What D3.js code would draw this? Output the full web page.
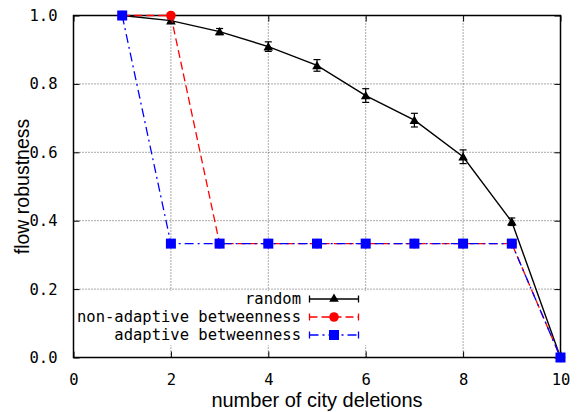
<!DOCTYPE html>
<html><head><meta charset="utf-8">
<script src="https://cdn.jsdelivr.net/npm/d3@7"></script>
<style>body{margin:0;background:#fff}svg{display:block}</style>
</head><body>
<svg id="c" width="579" height="412"></svg>
<script>
const xValues = [1, 2, 3, 4, 5, 6, 7, 8, 9, 10];
const randomVals = [1.0, 0.985, 0.953, 0.909, 0.854, 0.766, 0.694, 0.587, 0.397, 0.0];
const randomErr = [0, 0.005, 0.009, 0.014, 0.017, 0.02, 0.02, 0.02, 0.011, 0];
const nonAdaptiveVals = [1.0, 1.0, 0.333, 0.333, 0.333, 0.333, 0.333, 0.333, 0.333, 0.0];
const adaptiveVals = [1.0, 0.333, 0.333, 0.333, 0.333, 0.333, 0.333, 0.333, 0.333, 0.0];
const xTicks = [0, 2, 4, 6, 8, 10];
const yTicks = [0, 0.2, 0.4, 0.6, 0.8, 1.0];
const legendLabels = ["random", "non-adaptive betweenness", "adaptive betweenness"];
const xTitle = "number of city deletions";
const yTitle = "flow robustness";

const L = 73.5, R = 560.5, T = 15.5, B = 357.5;
const svg = d3.select("#c");
const x = d3.scaleLinear().domain([0, 10]).range([L, R]);
const y = d3.scaleLinear().domain([0, 1]).range([B, T]);
const mono = "'DejaVu Sans Mono', monospace";
const sans = "'Liberation Sans', Arial, sans-serif";
const fs = 15.5;

// grid
const grid = svg.append("g").attr("stroke", "#555").attr("stroke-width", 1).attr("stroke-dasharray", "1,2");
xTicks.filter(t => t > 0 && t < 10).forEach(t => {
  grid.append("line").attr("x1", x(t)).attr("x2", x(t)).attr("y1", B).attr("y2", T);
});
yTicks.filter(t => t > 0 && t < 1).forEach(t => {
  grid.append("line").attr("x1", L).attr("x2", R).attr("y1", y(t)).attr("y2", y(t));
});

// legend background (opaque)
const legX = 301, legY0 = 299, legDy = 18;
svg.append("rect").attr("x", L + 2).attr("y", 291).attr("width", 292).attr("height", 54).attr("fill", "#fff");

// axes
function styleAxis(g, labels) {
  g.select(".domain").remove();
  g.selectAll(".tick line").attr("stroke", "#000").attr("stroke-width", 1);
  g.selectAll(".tick text").attr("font-family", mono).attr("font-size", fs).attr("fill", "#000");
  if (!labels) g.selectAll(".tick text").remove();
}
svg.append("g").attr("transform", `translate(0,${B})`)
  .call(d3.axisBottom(x).tickValues(xTicks).tickSizeInner(-6).tickSizeOuter(0).tickPadding(16).tickFormat(d3.format("d")))
  .call(g => styleAxis(g, true));
svg.append("g").attr("transform", `translate(0,${T})`)
  .call(d3.axisTop(x).tickValues(xTicks).tickSizeInner(-6).tickSizeOuter(0))
  .call(g => styleAxis(g, false));
svg.append("g").attr("transform", `translate(${L},0)`)
  .call(d3.axisLeft(y).tickValues(yTicks).tickSizeInner(-6).tickSizeOuter(0).tickPadding(16).tickFormat(d3.format(".1f")))
  .call(g => styleAxis(g, true));
svg.append("g").attr("transform", `translate(${R},0)`)
  .call(d3.axisRight(y).tickValues(yTicks).tickSizeInner(-6).tickSizeOuter(0))
  .call(g => styleAxis(g, false));

// border
svg.append("rect").attr("x", L).attr("y", T).attr("width", R - L).attr("height", B - T)
  .attr("fill", "none").attr("stroke", "#000").attr("stroke-width", 1.5);

// titles
svg.append("text").attr("x", (L + R) / 2).attr("y", 407).attr("text-anchor", "middle")
  .attr("font-family", sans).attr("font-size", 20).text(xTitle);
svg.append("text").attr("transform", `translate(29,${(T + B) / 2}) rotate(-90)`).attr("text-anchor", "middle")
  .attr("font-family", sans).attr("font-size", 19.5).text(yTitle);

const line = d3.line().x(d => x(d[0])).y(d => y(d[1]));

// random series
const rnd = xValues.map((v, i) => [v, randomVals[i], randomErr[i]]);
svg.append("path").datum(rnd).attr("d", line).attr("fill", "none").attr("stroke", "#000").attr("stroke-width", 1.4);
const eb = svg.append("g").attr("stroke", "#000").attr("stroke-width", 1.2);
rnd.filter(d => d[2] > 0).forEach(d => {
  eb.append("line").attr("x1", x(d[0])).attr("x2", x(d[0])).attr("y1", y(d[1] - d[2])).attr("y2", y(d[1] + d[2]));
  [d[1] - d[2], d[1] + d[2]].forEach(v => eb.append("line").attr("x1", x(d[0]) - 3.5).attr("x2", x(d[0]) + 3.5).attr("y1", y(v)).attr("y2", y(v)));
});
const tri = d3.symbol().type(d3.symbolTriangle).size(40);
svg.append("g").selectAll("path").data(rnd).join("path")
  .attr("transform", d => `translate(${x(d[0])},${y(d[1]) + 1})`).attr("d", tri).attr("fill", "#000");

// non-adaptive
const na = xValues.map((v, i) => [v, nonAdaptiveVals[i]]);
svg.append("path").datum(na).attr("d", line).attr("fill", "none").attr("stroke", "#f00")
  .attr("stroke-width", 1.3).attr("stroke-dasharray", "8,4");
svg.append("g").selectAll("circle").data(na).join("circle")
  .attr("cx", d => x(d[0])).attr("cy", d => y(d[1])).attr("r", 4.8).attr("fill", "#f00");

// adaptive
const ad = xValues.map((v, i) => [v, adaptiveVals[i]]);
svg.append("path").datum(ad).attr("d", line).attr("fill", "none").attr("stroke", "#00f")
  .attr("stroke-width", 1.3).attr("stroke-dasharray", "9,4,2,4");
svg.append("g").selectAll("rect").data(ad).join("rect")
  .attr("x", d => x(d[0]) - 5).attr("y", d => y(d[1]) - 5).attr("width", 10).attr("height", 10).attr("fill", "#00f");

// legend
const sx1 = 309.5, sx2 = 358.5, sm = 334;
const styles = [
  {c: "#000", dash: null, m: "tri"},
  {c: "#f00", dash: "8,4", m: "circle"},
  {c: "#00f", dash: "9,4,2,4", m: "square"}
];
legendLabels.forEach((lab, i) => {
  const yy = legY0 + i * legDy;
  svg.append("text").attr("x", legX).attr("y", yy).attr("dy", "0.35em").attr("text-anchor", "end")
    .attr("font-family", mono).attr("font-size", fs).text(lab);
  const s = styles[i];
  const g = svg.append("g").attr("stroke", s.c).attr("stroke-width", 1.3);
  g.append("line").attr("x1", sx1).attr("x2", sx2).attr("y1", yy).attr("y2", yy).attr("stroke-dasharray", s.dash);
  g.append("line").attr("x1", sx1).attr("x2", sx1).attr("y1", yy - 3.5).attr("y2", yy + 3.5);
  g.append("line").attr("x1", sx2).attr("x2", sx2).attr("y1", yy - 3.5).attr("y2", yy + 3.5);
  if (s.m === "tri") svg.append("path").attr("transform", `translate(${sm},${yy})`).attr("d", tri).attr("fill", s.c);
  if (s.m === "circle") svg.append("circle").attr("cx", sm).attr("cy", yy).attr("r", 4.8).attr("fill", s.c);
  if (s.m === "square") svg.append("rect").attr("x", sm - 5).attr("y", yy - 5).attr("width", 10).attr("height", 10).attr("fill", s.c);
});
</script>
</body></html>
